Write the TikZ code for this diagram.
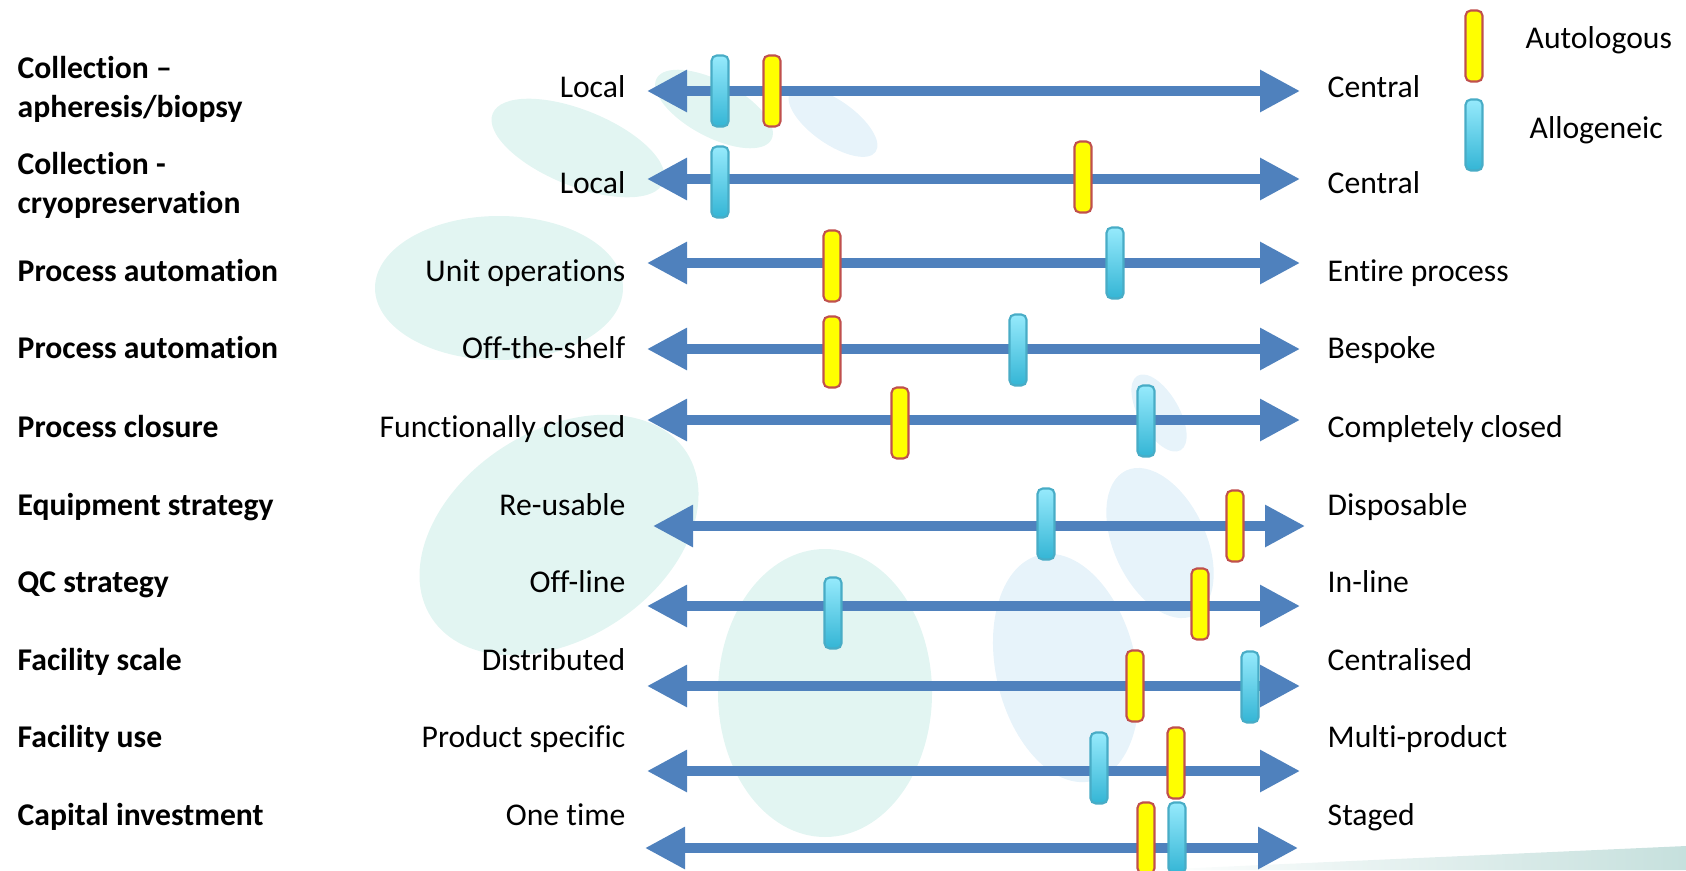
\documentclass[tikz,border=0pt]{standalone}
\usepackage{fontspec}
\setmainfont{Carlito}[Ligatures={TeX,NoCommon}]
\usetikzlibrary{arrows.meta}
\definecolor{barblue}{RGB}{79,129,189}
\definecolor{autofill}{RGB}{255,255,0}
\definecolor{autoline}{RGB}{192,80,77}
\definecolor{allotop}{RGB}{150,234,252}
\definecolor{allobot}{RGB}{52,181,213}
\definecolor{alloline}{RGB}{72,172,198}
\definecolor{blobteal}{RGB}{226,245,242}
\definecolor{blobblue}{RGB}{231,243,250}
\definecolor{floorc}{RGB}{198,224,221}

\begin{document}
\begin{tikzpicture}[
  x=0.01cm, y=-0.01cm,
  font=\fontsize{9}{11}\selectfont,
  factor/.style={anchor=base west, inner sep=0pt, align=left, font=\fontsize{9}{11}\selectfont\bfseries},
  lowend/.style={anchor=base east, inner sep=0pt},
  highend/.style={anchor=base west, inner sep=0pt},
  scaleline/.style={draw=barblue, line width=2.6pt, {Triangle[length=4mm,width=4mm]}-{Triangle[length=4mm,width=4mm]}},
  bar/.style={line width=0.6pt, rounded corners=1.5pt, minimum width=0.17cm, minimum height=0.71cm, inner sep=0pt},
  autobar/.style={bar, draw=autoline, fill=autofill},
  allobar/.style={bar, draw=alloline, top color=allotop, bottom color=allobot},
  blob/.style={fill=blobteal},
  blob2/.style={fill=blobblue}
]
\useasboundingbox (0,0) rectangle (1686,870);

\fill[blob, rotate around={-22:(578,148)}] (578,148) ellipse [x radius=92, y radius=38];
\fill[blob, rotate around={-28:(714,109)}] (714,109) ellipse [x radius=65, y radius=28];
\fill[blob2, rotate around={-35:(833,122)}] (833,122) ellipse [x radius=52, y radius=22];
\fill[blob] (499,288) ellipse [x radius=124, y radius=72];
\fill[blob, rotate around={33:(559,535)}] (559,535) ellipse [x radius=152, y radius=104];
\fill[blob2, rotate around={30:(1159,413)}] (1159,413) ellipse [x radius=20, y radius=43];
\fill[blob2, rotate around={25:(1160,543)}] (1160,543) ellipse [x radius=46, y radius=80];
\fill[blob] (825,693) ellipse [x radius=107, y radius=144];
\fill[blob2, rotate around={13:(1066,668)}] (1066,668) ellipse [x radius=70, y radius=116];
\shade[left color=white, right color=floorc] (1150,870) -- (1686,846) -- (1686,870) -- cycle;

\coordinate (lo1) at (647,91);   \coordinate (hi1) at (1300,91);
\coordinate (lo2) at (647,179);  \coordinate (hi2) at (1300,179);
\coordinate (lo3) at (647,263);  \coordinate (hi3) at (1300,263);
\coordinate (lo4) at (647,349);  \coordinate (hi4) at (1300,349);
\coordinate (lo5) at (647,420);  \coordinate (hi5) at (1300,420);
\coordinate (lo6) at (653,526);  \coordinate (hi6) at (1305,526);
\coordinate (lo7) at (647,606);  \coordinate (hi7) at (1300,606);
\coordinate (lo8) at (647,686);  \coordinate (hi8) at (1300,686);
\coordinate (lo9) at (647,771);  \coordinate (hi9) at (1300,771);
\coordinate (lo10) at (645,848); \coordinate (hi10) at (1298,848);

\draw[scaleline] (lo1) -- (hi1);
\draw[scaleline] (lo2) -- (hi2);
\draw[scaleline] (lo3) -- (hi3);
\draw[scaleline] (lo4) -- (hi4);
\draw[scaleline] (lo5) -- (hi5);
\draw[scaleline] (lo6) -- (hi6);
\draw[scaleline] (lo7) -- (hi7);
\draw[scaleline] (lo8) -- (hi8);
\draw[scaleline] (lo9) -- (hi9);
\draw[scaleline] (lo10) -- (hi10);

\node[factor] (f1) at (17,117) {Collection –\\apheresis/biopsy};
\node[factor] (f2) at (17,213) {Collection -\\cryopreservation};
\node[factor] (f3) at (17,281) {Process automation};
\node[factor] (f4) at (17,358) {Process automation};
\node[factor] (f5) at (17,437) {Process closure};
\node[factor] (f6) at (17,515) {Equipment strategy};
\node[factor] (f7) at (17,592) {QC strategy};
\node[factor] (f8) at (17,670) {Facility scale};
\node[factor] (f9) at (17,747) {Facility use};
\node[factor] (f10) at (17,825) {Capital investment};

\node[lowend] (low1) at (626,98) {Local};
\node[lowend] (low2) at (626,193) {Local};
\node[lowend] (low3) at (626,281) {Unit operations};
\node[lowend] (low4) at (626,358) {Off-the-shelf};
\node[lowend] (low5) at (626,437) {Functionally closed};
\node[lowend] (low6) at (626,515) {Re-usable};
\node[lowend] (low7) at (626,592) {Off-line};
\node[lowend] (low8) at (626,670) {Distributed};
\node[lowend] (low9) at (626,747) {Product specific};
\node[lowend] (low10) at (626,825) {One time};

\node[highend] (high1) at (1327,98) {Central};
\node[highend] (high2) at (1327,193) {Central};
\node[highend] (high3) at (1327,281) {Entire process};
\node[highend] (high4) at (1327,358) {Bespoke};
\node[highend] (high5) at (1327,437) {Completely closed};
\node[highend] (high6) at (1327,515) {Disposable};
\node[highend] (high7) at (1327,592) {In-line};
\node[highend] (high8) at (1327,670) {Centralised};
\node[highend] (high9) at (1327,747) {Multi-product};
\node[highend] (high10) at (1327,825) {Staged};

\node[allobar] (al1) at (720,91) {};
\node[autobar] (au1) at (772,91) {};
\node[allobar] (al2) at (720,182) {};
\node[autobar] (au2) at (1083,177) {};
\node[autobar] (au3) at (832,266) {};
\node[allobar] (al3) at (1115,263) {};
\node[autobar] (au4) at (832,352) {};
\node[allobar] (al4) at (1018,350) {};
\node[autobar] (au5) at (900,423) {};
\node[allobar] (al5) at (1146,421) {};
\node[allobar] (al6) at (1046,524) {};
\node[autobar] (au6) at (1235,526) {};
\node[allobar] (al7) at (833,613) {};
\node[autobar] (au7) at (1200,604) {};
\node[autobar] (au8) at (1135,686) {};
\node[allobar] (al8) at (1250,687) {};
\node[allobar] (al9) at (1099,768) {};
\node[autobar] (au9) at (1176,763) {};
\node[autobar] (au10) at (1146,838) {};
\node[allobar] (al10) at (1177,838) {};

\node[autobar] (keyau) at (1474,46) {};
\node[allobar] (keyal) at (1474,135) {};
\node[highend] (keyautext) at (1525,49) {Autologous};
\node[highend] (keyaltext) at (1529,139) {Allogeneic};
\end{tikzpicture}
\end{document}
